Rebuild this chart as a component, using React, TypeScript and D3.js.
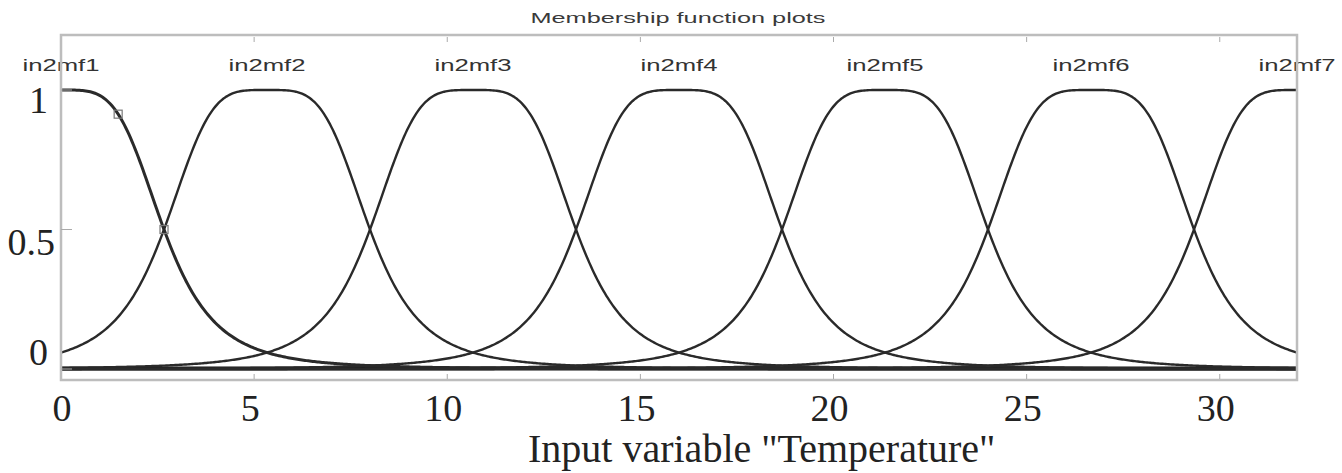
import React from "react";
import * as d3 from "d3";

const mfNames = ["in2mf1", "in2mf2", "in2mf3", "in2mf4", "in2mf5", "in2mf6", "in2mf7"];
const mfCenters = [0, 5.333, 10.667, 16, 21.333, 26.667, 32];
const mfWidths = [2.667, 2.667, 2.667, 2.667, 2.667, 2.667, 2.667];
const mfSlopes = [2, 2, 2, 2, 2, 2, 2];
const xTicks = [0, 5, 10, 15, 20, 25, 30];
const yTicks = [0, 0.5, 1];
const yTickLabels = ["0", "0.5", "1"];
const handleX = [1.48, 2.667];

const W = 1342;
const H = 473;

function gbell(x: number, a: number, b: number, c: number) {
  return 1 / (1 + Math.pow(Math.abs((x - c) / a), 2 * b));
}

export default function App() {
  const x = d3.scaleLinear().domain([0, 32]).range([61, 1297]);
  const y = d3.scaleLinear().domain([0, 1]).range([369, 90]);
  const samples = d3.range(0, 32.0001, 0.04);
  const line = d3
    .line<number[]>()
    .x((d) => x(d[0]))
    .y((d) => y(d[1]))
    .curve(d3.curveLinear);

  const yLabelNudge = (v: number) => (v === 0 ? -17 : v === 1 ? 10 : 12);
  const yLabelRight = (v: number) => (v === 0.5 ? 55 : 48);

  return (
    <svg
      width={W}
      height={H}
      style={{ position: "absolute", left: 0, top: 0, background: "#fff" }}
    >
      <text
        x={678}
        y={23}
        textAnchor="middle"
        textLength={295}
        lengthAdjust="spacingAndGlyphs"
        fontFamily="Liberation Sans, Arial, sans-serif"
        fontSize={15}
        fill="#3a3a3a"
      >
        Membership function plots
      </text>

      {/* baseline of overlapping tails */}
      <line x1={x(0)} x2={x(32)} y1={y(0) - 0.5} y2={y(0) - 0.5} stroke="#111" strokeWidth={4} />

      {mfNames.map((name, i) => {
        const pts = samples.map((s) => [s, gbell(s, mfWidths[i], mfSlopes[i], mfCenters[i])]);
        return (
          <path
            key={name}
            d={line(pts) || ""}
            fill="none"
            stroke="#2a2a2a"
            strokeWidth={i === 0 ? 3 : 2.4}
          />
        );
      })}

      {handleX.map((hx, i) => {
        const v = gbell(hx, mfWidths[0], mfSlopes[0], mfCenters[0]);
        return (
          <rect
            key={i}
            x={x(hx) - 4}
            y={y(v) - 4}
            width={8}
            height={8}
            fill="none"
            stroke="#777"
            strokeWidth={1.2}
          />
        );
      })}

      {mfNames.map((name, i) => (
        <text
          key={name}
          x={x(mfCenters[i])}
          y={71}
          textAnchor="middle"
          textLength={77}
          lengthAdjust="spacingAndGlyphs"
          fontFamily="Liberation Sans, Arial, sans-serif"
          fontSize={16}
          fill="#333"
        >
          {name}
        </text>
      ))}

      {/* axes box */}
      <rect x={x(0)} y={35} width={x(32) - x(0)} height={345} fill="none" stroke="#bdbdbd" strokeWidth={2.5} />

      {xTicks.slice(1).map((t) => (
        <g key={t}>
          <line x1={x(t)} x2={x(t)} y1={37} y2={42} stroke="#aaa" strokeWidth={1} />
          <line x1={x(t)} x2={x(t)} y1={379} y2={374} stroke="#aaa" strokeWidth={1} />
        </g>
      ))}
      {yTicks.map((t) => (
        <line key={t} x1={x(0)} x2={x(0) + 11} y1={y(t)} y2={y(t)} stroke="#aaa" strokeWidth={1} />
      ))}

      {yTicks.map((t, i) => (
        <text
          key={t}
          x={yLabelRight(t)}
          y={y(t) + yLabelNudge(t)}
          dy="0.35em"
          textAnchor="end"
          fontFamily="Liberation Serif, Times New Roman, serif"
          fontSize={38}
          fill="#222"
        >
          {yTickLabels[i]}
        </text>
      ))}

      {xTicks.map((t) => (
        <text
          key={t}
          x={x(t) + (t === 0 ? 1 : -4)}
          y={408}
          dy="0.35em"
          textAnchor="middle"
          fontFamily="Liberation Serif, Times New Roman, serif"
          fontSize={38}
          fill="#222"
        >
          {t}
        </text>
      ))}

      <text
        x={528}
        y={462}
        textAnchor="start"
        fontFamily="Liberation Serif, Times New Roman, serif"
        fontSize={40}
        fill="#222"
      >
        Input variable "Temperature"
      </text>
    </svg>
  );
}
